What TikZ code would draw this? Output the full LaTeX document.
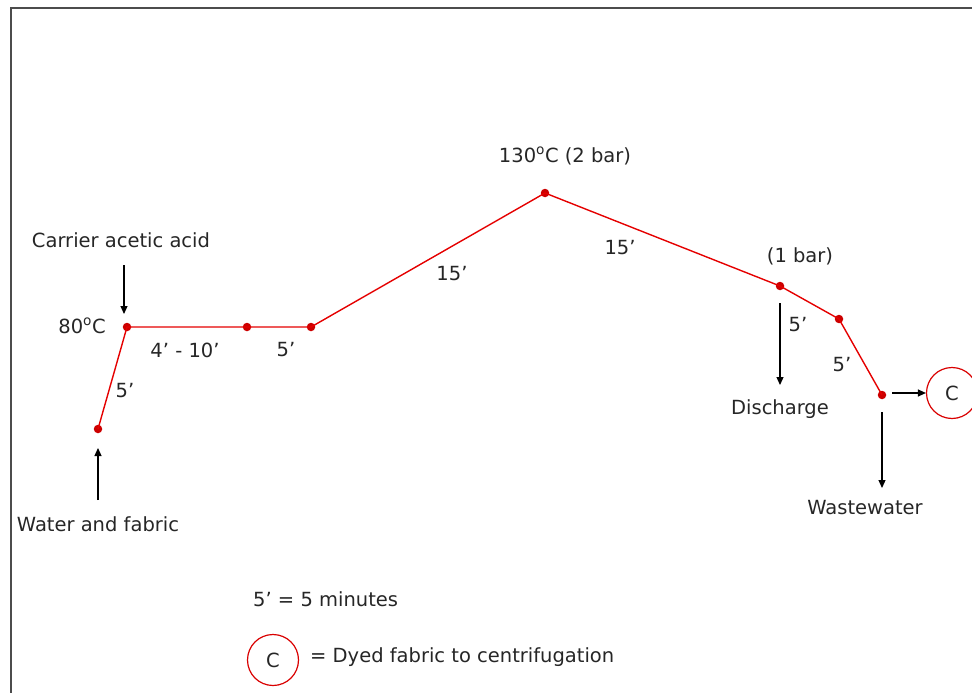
\documentclass[tikz,border=0pt]{standalone}
\usepackage{fontspec}
\setmainfont{DejaVu Sans}
\usetikzlibrary{arrows.meta}
\begin{document}
\begin{tikzpicture}[x=1pt,y=-1pt,
  lbl/.style={font=\fontsize{19.5}{23}\selectfont, text=black!85, inner sep=0pt},
  pt/.style={circle, fill=red!80!black, inner sep=0pt, minimum size=8.5pt},
  curve/.style={draw=red!90!black, line width=1.4pt},
  flow/.style={draw=black, line width=1.2pt, -{Triangle[length=8pt,width=7pt]}},
  cc/.style={circle, draw=red!85!black, line width=1.2pt, minimum size=51pt, inner sep=0pt, font=\fontsize{19.5}{23}\selectfont, text=black!85}
]
\useasboundingbox (0,0) rectangle (972,693);
\draw[black!70, line width=2pt] (10.5,693) -- (10.5,8.5) -- (972,8.5);
% profile points
\node[pt] (p0) at (98,429) {};
\node[pt] (p1) at (127,327) {};
\node[pt] (p2) at (247,327) {};
\node[pt] (p3) at (311,327) {};
\node[pt] (p4) at (545,193) {};
\node[pt] (p5) at (780,286) {};
\node[pt] (p6) at (839,319) {};
\node[pt] (p7) at (882,395) {};
\draw[curve] (p0.center) -- (p1.center) -- (p2.center) -- (p3.center) -- (p4.center) -- (p5.center) -- (p6.center) -- (p7.center);
% labels
\node[lbl] (water) at (98,524) {Water and fabric};
\node[lbl] (carrier) at (121,240) {Carrier acetic acid};
\node[lbl] (t80) at (82,326) {80\textsuperscript{o}C};
\node[lbl] (d1) at (125,391) {5’};
\node[lbl] (d2) at (185,350) {4’ - 10’};
\node[lbl] (d3) at (286,350) {5’};
\node[lbl] (d4) at (452,274) {15’};
\node[lbl] (t130) at (565,156) {130\textsuperscript{o}C (2 bar)};
\node[lbl] (d5) at (620,248) {15’};
\node[lbl] (bar1) at (800,256) {(1 bar)};
\node[lbl] (d6) at (798,325) {5’};
\node[lbl] (d7) at (842,365) {5’};
\node[lbl] (dis) at (780,409) {Discharge};
\node[lbl] (waste) at (865,508) {Wastewater};
\node[cc] (c1) at (952,393) {C};
% arrows
\coordinate (wa) at (98,500); \coordinate (wb) at (98,448);
\draw[flow] (wa) -- (wb);
\coordinate (ca) at (124,265); \coordinate (cb) at (124,314);
\draw[flow] (ca) -- (cb);
\coordinate (da) at (780,303); \coordinate (db) at (780,385);
\draw[flow] (da) -- (db);
\coordinate (xa) at (882,412); \coordinate (xb) at (882,488);
\draw[flow] (xa) -- (xb);
\coordinate (ra) at (892,393);
\draw[flow] (ra) -- (c1.west);
% legend
\node[lbl, anchor=west] (leg1) at (253,599) {5’ = 5 minutes};
\node[cc] (c2) at (273,660) {C};
\node[lbl, anchor=west] (leg2) at (310,657) {= Dyed fabric to centrifugation};
\end{tikzpicture}
\end{document}
